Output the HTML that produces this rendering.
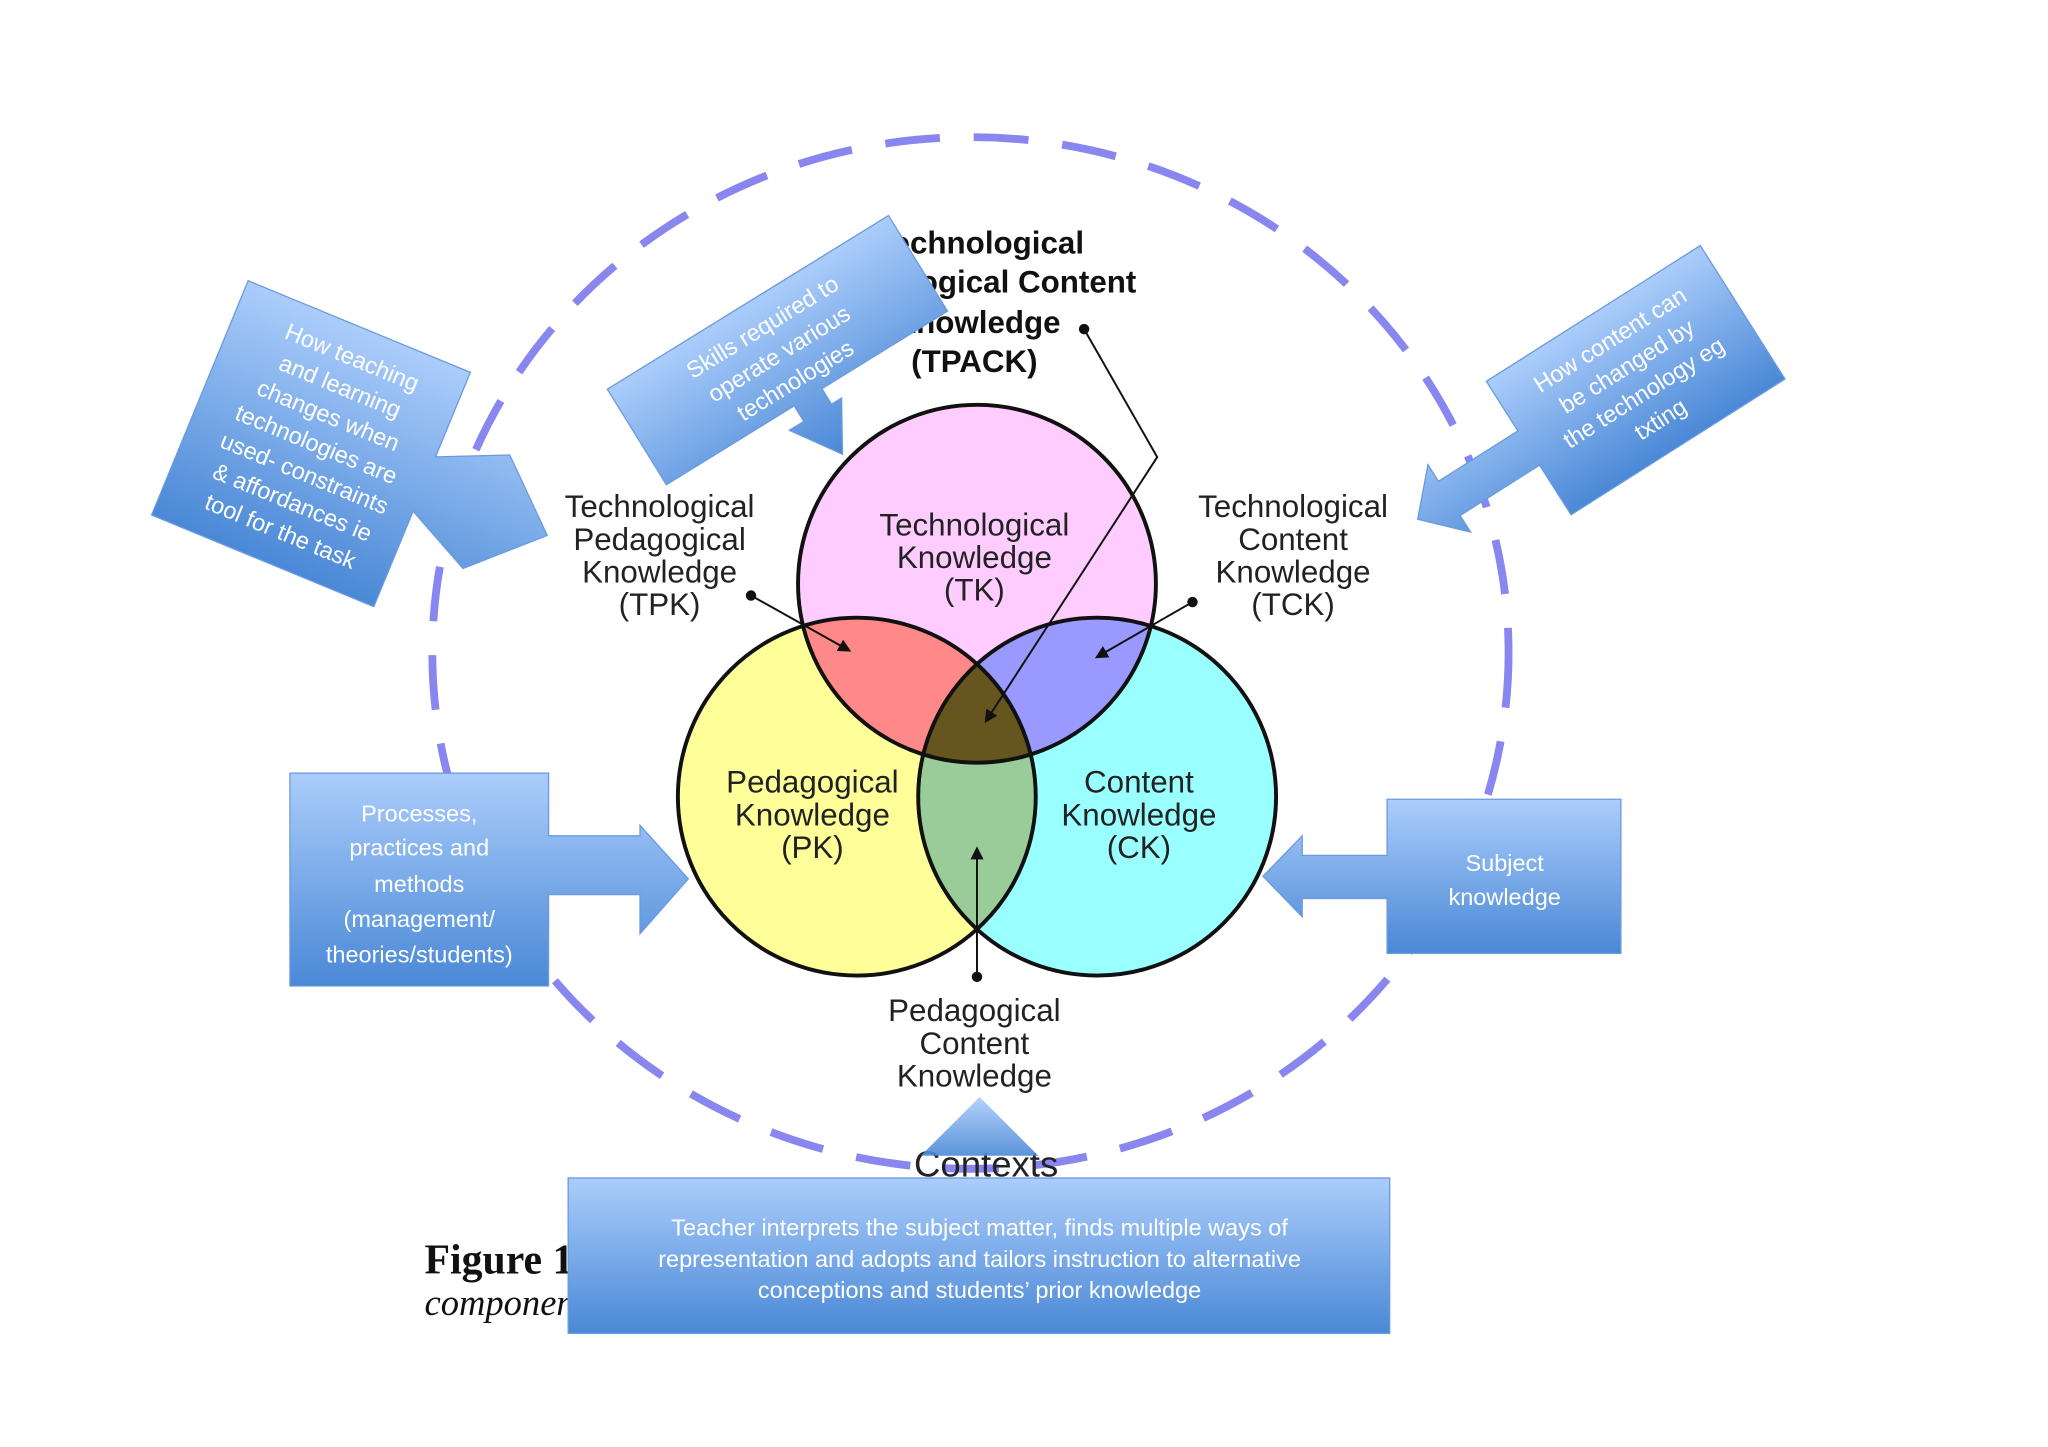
<!DOCTYPE html>
<html><head><meta charset="utf-8"><style>
html,body{margin:0;padding:0;background:#fff;}
svg{display:block;}
</style></head><body>
<svg width="2048" height="1447" viewBox="0 0 1568 1108" preserveAspectRatio="none" xmlns="http://www.w3.org/2000/svg">
<defs>
<linearGradient id="bg" x1="0" y1="0" x2="0" y2="1">
<stop offset="0" stop-color="#abcdfb"/><stop offset="1" stop-color="#4a88d6"/>
</linearGradient>
<clipPath id="cTK"><circle cx="748" cy="447" r="137"/></clipPath>
<clipPath id="cPK"><circle cx="656" cy="610" r="137"/></clipPath>
<clipPath id="cCK"><circle cx="840" cy="610" r="137"/></clipPath>
<marker id="ah" markerWidth="10" markerHeight="10" refX="8" refY="5" orient="auto" markerUnits="userSpaceOnUse">
<path d="M0,0 L10,5 L0,10 z" fill="#111"/></marker>
</defs>

<ellipse cx="743" cy="500" rx="412" ry="395" fill="none" stroke="#8a86f0" stroke-width="6" stroke-dasharray="42 26"/>

<circle cx="748" cy="447" r="137" fill="#ffccff"/>
<circle cx="656" cy="610" r="137" fill="#ffff99"/>
<circle cx="840" cy="610" r="137" fill="#99ffff"/>
<g clip-path="url(#cTK)"><circle cx="656" cy="610" r="137" fill="#f88"/><circle cx="840" cy="610" r="137" fill="#99f"/></g>
<g clip-path="url(#cPK)"><circle cx="840" cy="610" r="137" fill="#99cc99"/></g>
<g clip-path="url(#cTK)"><g clip-path="url(#cPK)"><circle cx="840" cy="610" r="137" fill="#66551e"/></g></g>
<g fill="none" stroke="#111" stroke-width="3">
<circle cx="748" cy="447" r="137"/><circle cx="656" cy="610" r="137"/><circle cx="840" cy="610" r="137"/>
</g>

<g font-family="Liberation Sans, Arial, sans-serif" font-size="24" fill="#222" text-anchor="middle">
<text x="746" y="410">Technological</text><text x="746" y="435">Knowledge</text><text x="746" y="460">(TK)</text>
<text x="622" y="607">Pedagogical</text><text x="622" y="632">Knowledge</text><text x="622" y="657">(PK)</text>
<text x="872" y="607">Content</text><text x="872" y="632">Knowledge</text><text x="872" y="657">(CK)</text>
<text x="505" y="396">Technological</text><text x="505" y="421">Pedagogical</text><text x="505" y="446">Knowledge</text><text x="505" y="471">(TPK)</text>
<text x="990" y="396">Technological</text><text x="990" y="421">Content</text><text x="990" y="446">Knowledge</text><text x="990" y="471">(TCK)</text>
<text x="746" y="782">Pedagogical</text><text x="746" y="807">Content</text><text x="746" y="832">Knowledge</text>
</g>
<g font-family="Liberation Sans, Arial, sans-serif" font-size="24" font-weight="bold" fill="#111">
<text x="830" y="194" text-anchor="end">Technological</text>
<text x="870" y="224" text-anchor="end">Pedagogical Content</text>
<text x="812" y="255" text-anchor="end">Knowledge</text>
<text x="746" y="285" text-anchor="middle">(TPACK)</text>
</g>

<g stroke="#111" stroke-width="1.5" fill="none">
<polyline points="830,252 886,350 755,552" marker-end="url(#ah)"/>
<line x1="575" y1="456" x2="650" y2="498" marker-end="url(#ah)"/>
<line x1="913" y1="461" x2="840" y2="503" marker-end="url(#ah)"/>
<line x1="748" y1="748" x2="748" y2="650" marker-end="url(#ah)"/>
</g>
<g fill="#111"><circle cx="830" cy="252" r="4"/><circle cx="575" cy="456" r="4"/><circle cx="913" cy="461" r="4"/><circle cx="748" cy="748" r="4"/></g>

<text x="755" y="901" font-family="Liberation Sans, Arial, sans-serif" font-size="28" fill="#222" text-anchor="middle">Contexts</text>
<text x="325" y="975" font-family="Liberation Serif, serif" font-size="32" font-weight="bold" fill="#111">Figure 1</text>
<text x="325" y="1007" font-family="Liberation Serif, serif" font-size="28" font-style="italic" fill="#111">components</text>

<g font-family="Liberation Sans, Calibri, sans-serif" font-size="18" fill="#fff" text-anchor="middle">
<g transform="translate(190,215) rotate(22.4)">
<polygon points="0,0 184,0 184,70 236,47 286,93 236,141 184,115 184,194 0,194" fill="url(#bg)" stroke="#6a9ae0" stroke-width="1"/>
<text x="96" y="30">How teaching</text><text x="96" y="54">and learning</text><text x="96" y="78">changes when</text><text x="96" y="102">technologies are</text><text x="96" y="126">used- constraints</text><text x="96" y="150">&amp; affordances ie</text><text x="96" y="174">tool for the task</text>
</g>
<g transform="translate(465,298) rotate(-31.7)">
<polygon points="0,0 253,0 253,86 140,86 140,100 149,100 127,137 102,100 115,100 115,86 0,86" fill="url(#bg)" stroke="#6a9ae0" stroke-width="1"/>
<text x="126" y="28">Skills required to</text><text x="126" y="52">operate various</text><text x="126" y="76">technologies</text>
</g>
<g transform="translate(1138,292) rotate(-32.4)">
<polygon points="0,0 194,0 194,121 0,121 0,76 -72,76 -72,91 -101,61 -72,30 -72,45 0,45" fill="url(#bg)" stroke="#6a9ae0" stroke-width="1"/>
<text x="97" y="30">How content can</text><text x="97" y="54">be changed by</text><text x="97" y="78">the technology eg</text><text x="97" y="102">txting</text>
</g>
<polygon points="222,592 420,592 420,640 490,640 490,632 527,673 490,715 490,685 420,685 420,755 222,755" fill="url(#bg)" stroke="#6a9ae0" stroke-width="1"/>
<text x="321" y="629">Processes,</text><text x="321" y="655">practices and</text><text x="321" y="683">methods</text><text x="321" y="710">(management/</text><text x="321" y="737">theories/students)</text>
<polygon points="1062,612 1241,612 1241,730 1062,730 1062,688 997,688 997,702 967,671 997,640 997,655 1062,655" fill="url(#bg)" stroke="#6a9ae0" stroke-width="1"/>
<text x="1152" y="667">Subject</text><text x="1152" y="693">knowledge</text>
<polygon points="705,885 750,840 795,885" fill="url(#bg)" opacity="0.9"/>
<rect x="435" y="902" width="629" height="119" fill="url(#bg)" stroke="#6a9ae0" stroke-width="1"/>
<text x="750" y="946">Teacher interprets the subject matter, finds multiple ways of</text>
<text x="750" y="970">representation and adopts and tailors instruction to alternative</text>
<text x="750" y="994">conceptions and students’ prior knowledge</text>
</g>
</svg>
</body></html>
